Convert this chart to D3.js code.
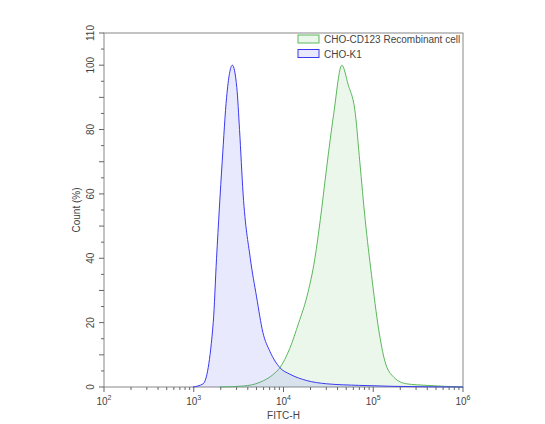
<!DOCTYPE html>
<html><head><meta charset="utf-8">
<script src="https://cdn.jsdelivr.net/npm/d3@7"></script>
<style>body{margin:0;background:#fff}text{font-family:Arial,"Liberation Sans",sans-serif;fill:#444}</style>
</head><body><svg id="c" width="545" height="424"></svg>
<script>
// log10 of FITC-H, count %
const k1Log = [2.99,3.105,3.217,3.254,3.317,3.366,3.43,3.48,3.51,3.55,3.63,3.70,3.77,3.85,3.96,4.07,4.26,4.48,4.85,5.23,6];
const k1Val = [0,1,20,40,70,90,100,93,80,60,40,28,17,11,6,4,2,1,0.5,0.2,0];
const cdLog = [3.29,3.55,3.74,3.89,3.96,4.07,4.17,4.26,4.35,4.41,4.48,4.56,4.65,4.72,4.80,4.85,4.91,4.98,5.06,5.13,5.23,5.37,5.60,6];
const cdVal = [0,0.3,1.5,4,6,12,20,28,40,52,68,85,100,94,85,70,52,35,18,8,3,1,0.5,0];
const yTicks = [0,20,40,60,80,100,110];
const series = [
  {name:'CHO-CD123 Recombinant cell', xs:cdLog, ys:cdVal, stroke:'#5cb85c', fill:'rgba(120,200,120,0.15)'},
  {name:'CHO-K1', xs:k1Log, ys:k1Val, stroke:'#3a3af0', fill:'rgba(110,110,240,0.15)'}
];
const svg = d3.select('#c');
const L=104,R=463,T=33,B=387;
const x = d3.scaleLog().domain([1e2,1e6]).range([L,R]);
const y = d3.scaleLinear().domain([0,110]).range([B,T]);

svg.append('rect').attr('x',L).attr('y',T).attr('width',R-L).attr('height',B-T)
  .attr('fill','none').attr('stroke','#888');

const area = d3.area().curve(d3.curveMonotoneX)
  .x(d=>x(Math.pow(10,d[0]))).y0(y(0)).y1(d=>y(d[1]));
const line = d3.line().curve(d3.curveMonotoneX)
  .x(d=>x(Math.pow(10,d[0]))).y(d=>y(d[1]));
series.forEach(s=>{
  const pts = s.xs.map((v,i)=>[v,s.ys[i]]);
  svg.append('path').attr('d',area(pts)).attr('fill',s.fill);
  svg.append('path').attr('d',line(pts)).attr('fill','none').attr('stroke',s.stroke).attr('stroke-width',1);
});

// x axis
const xa = svg.append('g').attr('transform',`translate(0,${B})`);
const minor = [];
for (let e=2;e<6;e++) for (let m=1;m<10;m++) minor.push(m*Math.pow(10,e));
minor.push(1e6);
xa.selectAll('line').data(minor).join('line')
  .attr('x1',d=>x(d)).attr('x2',d=>x(d)).attr('y1',0)
  .attr('y2',d=>Math.log10(d)%1===0?5:3).attr('stroke','#666');
[2,3,4,5,6].forEach(e=>{
  const t = xa.append('text').attr('x',x(Math.pow(10,e))).attr('y',18).attr('text-anchor','middle').style('font-size','10px');
  t.append('tspan').text('10');
  t.append('tspan').attr('dy',-5).style('font-size','7px').text(e);
});
svg.append('text').attr('x',(L+R)/2).attr('y',419).attr('text-anchor','middle').style('font-size','10px').text('FITC-H');

// y axis
const ya = svg.append('g').attr('transform',`translate(${L},0)`);
ya.selectAll('line').data(d3.range(0,111,5)).join('line')
  .attr('x1',d=>d%10===0?-5:-3).attr('x2',0).attr('y1',d=>y(d)).attr('y2',d=>y(d)).attr('stroke','#666');
ya.selectAll('text').data(yTicks).join('text')
  .attr('transform',d=>`translate(-10,${y(d)}) rotate(-90)`).attr('text-anchor','middle')
  .style('font-size','10px').text(d=>d);
svg.append('text').attr('transform',`translate(80,${(T+B)/2}) rotate(-90)`).attr('text-anchor','middle')
  .style('font-size','10px').text('Count (%)');

// legend
series.forEach((s,i)=>{
  const gy = 35+i*14.5;
  svg.append('rect').attr('x',298).attr('y',gy).attr('width',21).attr('height',8)
    .attr('fill',s.fill).attr('stroke',s.stroke);
  svg.append('text').attr('x',324).attr('y',gy+8).style('font-size','10px').text(s.name);
});
</script></body></html>
